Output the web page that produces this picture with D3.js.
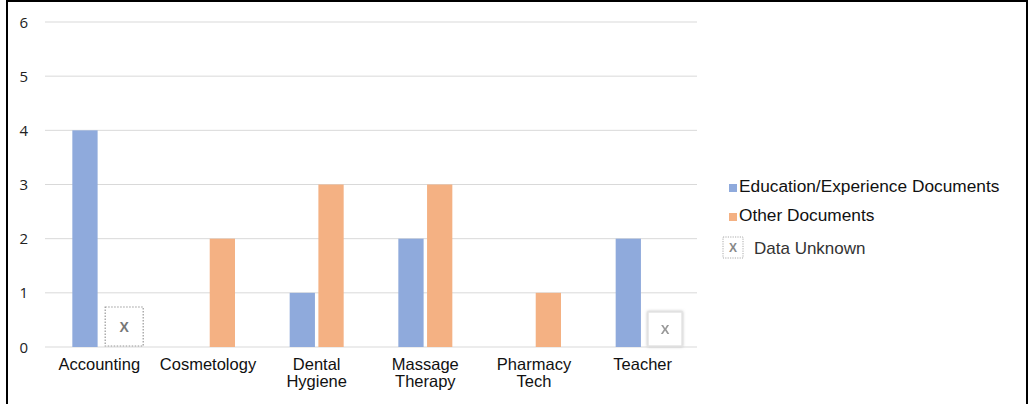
<!DOCTYPE html>
<html>
<head>
<meta charset="utf-8">
<script src="https://cdn.jsdelivr.net/npm/d3@7.9.0/dist/d3.min.js"></script>
<style>
  html, body { margin: 0; padding: 0; background: #fff; }
  svg { display: block; font-family: "Liberation Sans", Arial, sans-serif; }
</style>
</head>
<body>
<div id="chart"></div>
<script>
const categories = [['Accounting'], ['Cosmetology'], ['Dental', 'Hygiene'],
                    ['Massage', 'Therapy'], ['Pharmacy', 'Tech'], ['Teacher']];
const seriesNames = ['Education/Experience Documents', 'Other Documents'];
const eduDocs   = [4, 0, 1, 2, 0, 2];
const otherDocs = [null, 2, 3, 3, 1, null];   // null = data unknown
const yTicks = [0, 1, 2, 3, 4, 5, 6];
const colors = ['#8faadc', '#f4b183'];

const width = 1030, height = 404;
const plot = { left: 45, right: 697, top: 22, bottom: 347 };

const svg = d3.select('#chart').append('svg')
  .attr('width', width).attr('height', height);

// outer frame
svg.append('rect')
  .attr('x', 7).attr('y', 1).attr('width', 1020).attr('height', 420)
  .attr('fill', 'none').attr('stroke', '#000').attr('stroke-width', 2);

const x = d3.scaleBand()
  .domain(categories.map(d => d.join(' ')))
  .range([plot.left, plot.right]);

const xInner = d3.scaleBand()
  .domain(seriesNames)
  .range([x.bandwidth() / 2 - 27, x.bandwidth() / 2 + 27])
  .paddingInner(0.12);

const y = d3.scaleLinear().domain([0, 6]).range([plot.bottom, plot.top]);

// gridlines
svg.append('g')
  .selectAll('line')
  .data(yTicks)
  .join('line')
    .attr('x1', plot.left).attr('x2', plot.right)
    .attr('y1', d => y(d)).attr('y2', d => y(d))
    .attr('stroke', '#d9d9d9').attr('stroke-width', 1);

// y tick labels
svg.append('g')
  .selectAll('text')
  .data(yTicks)
  .join('text')
    .attr('x', 28).attr('y', d => y(d) + 5.5)
    .attr('text-anchor', 'end')
    .attr('font-family', '"Open Sans", sans-serif')
    .attr('font-size', 15)
    .attr('fill', '#222')
    .text(d => d);

// bars
const rows = categories.map((c, i) => ({
  key: c.join(' '),
  values: [eduDocs[i], otherDocs[i]]
}));

const groups = svg.append('g').selectAll('g')
  .data(rows)
  .join('g')
    .attr('transform', d => `translate(${x(d.key)},0)`);

groups.selectAll('rect')
  .data(d => d.values.map((v, j) => ({ v, s: seriesNames[j], j })).filter(d => d.v))
  .join('rect')
    .attr('x', d => xInner(d.s))
    .attr('width', xInner.bandwidth())
    .attr('y', d => y(d.v))
    .attr('height', d => y(0) - y(d.v))
    .attr('fill', d => colors[d.j]);

// "data unknown" markers
const unknown = rows.map((r, i) => ({ key: r.key, i }))
  .filter(d => otherDocs[d.i] === null);

const defs = svg.append('defs');
const f = defs.append('filter').attr('id', 'soft')
  .attr('x', '-30%').attr('y', '-30%').attr('width', '160%').attr('height', '160%');
f.append('feGaussianBlur').attr('stdDeviation', 0.7);
const sh = defs.append('filter').attr('id', 'shadow')
  .attr('x', '-30%').attr('y', '-30%').attr('width', '160%').attr('height', '160%');
sh.append('feDropShadow').attr('dx', 0).attr('dy', 0).attr('stdDeviation', 1.5)
  .attr('flood-color', '#bbb');

unknown.forEach((d, k) => {
  const cx = x(d.key) + xInner(seriesNames[1]) + xInner.bandwidth() / 2 + (k === 0 ? 10.5 : 8);
  const bw = k === 0 ? 38 : 34;
  const g = svg.append('g');
  if (k === 0) {
    g.append('rect')
      .attr('x', cx - bw / 2).attr('y', y(0) - 40)
      .attr('width', bw).attr('height', 39)
      .attr('fill', '#fff').attr('stroke', '#999')
      .attr('stroke-width', 1.2).attr('stroke-dasharray', '1.5,1.5');
    g.append('text')
      .attr('x', cx).attr('y', y(0) - 15)
      .attr('text-anchor', 'middle').attr('font-size', 14).attr('font-weight', 'bold')
      .attr('fill', '#777').text('X');
  } else {
    g.append('rect')
      .attr('x', cx - bw / 2).attr('y', y(0) - 35)
      .attr('width', bw).attr('height', 34)
      .attr('fill', '#fff').attr('stroke', '#e4e4e4')
      .attr('stroke-width', 1.5).attr('filter', 'url(#shadow)');
    g.append('text')
      .attr('x', cx).attr('y', y(0) - 13)
      .attr('text-anchor', 'middle').attr('font-size', 13).attr('font-weight', 'bold')
      .attr('fill', '#999').attr('filter', 'url(#soft)').text('X');
  }
});

// x labels
svg.append('g')
  .selectAll('text')
  .data(categories)
  .join('text')
    .attr('x', d => x(d.join(' ')) + x.bandwidth() / 2)
    .attr('y', 370)
    .attr('text-anchor', 'middle')
    .attr('font-size', 16.5)
    .attr('fill', '#111')
    .each(function (d) {
      d3.select(this).selectAll('tspan')
        .data(d)
        .join('tspan')
          .attr('x', d3.select(this).attr('x'))
          .attr('dy', (t, i) => i === 0 ? 0 : 17)
          .text(t => t);
    });

// legend
const legend = svg.append('g');
seriesNames.forEach((name, i) => {
  const ly = 192 + i * 29;
  legend.append('rect')
    .attr('x', 729).attr('y', ly - 8).attr('width', 8).attr('height', 8)
    .attr('fill', colors[i]);
  legend.append('text')
    .attr('x', 739).attr('y', ly)
    .attr('font-size', 17.3).attr('fill', '#111')
    .text(name);
});
legend.append('rect')
  .attr('x', 723).attr('y', 237).attr('width', 20).attr('height', 21)
  .attr('fill', '#fff').attr('stroke', '#aaa')
  .attr('stroke-width', 1).attr('stroke-dasharray', '1.2,1.2');
legend.append('text')
  .attr('x', 733).attr('y', 252).attr('text-anchor', 'middle')
  .attr('font-size', 12).attr('font-weight', 'bold').attr('fill', '#888')
  .text('X');
legend.append('text')
  .attr('x', 754).attr('y', 254)
  .attr('font-size', 17).attr('fill', '#333')
  .text('Data Unknown');
</script>
</body>
</html>
